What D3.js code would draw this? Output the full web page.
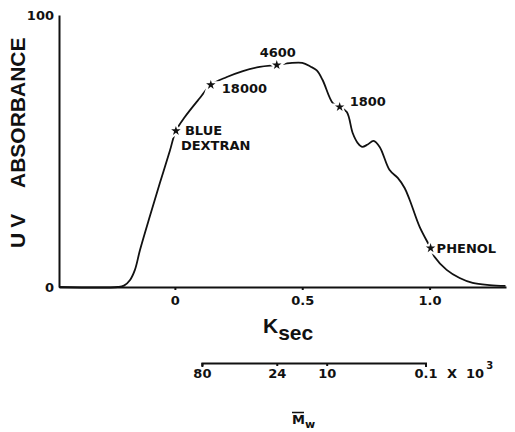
<!DOCTYPE html>
<html>
<head>
<meta charset="utf-8">
<script src="https://cdn.jsdelivr.net/npm/d3@7"></script>
<style>
  body { margin: 0; background: #fff; }
  svg { display: block; }
  .lbl { font-family: "DejaVu Sans", sans-serif; font-weight: bold; font-size: 13px; fill: #111; }
</style>
</head>
<body>
<svg id="chart"></svg>
<script>
// chromatogram trace (Ksec, UV absorbance)
const ksec = [-0.455, -0.224, -0.2, -0.176, -0.157, -0.137, -0.098, -0.059, -0.020, 0.004,
  0.039, 0.098, 0.141, 0.204, 0.267, 0.333, 0.400, 0.451, 0.500,
  0.533, 0.557, 0.580, 0.620, 0.647, 0.675, 0.698, 0.718, 0.735, 0.757, 0.780, 0.804,
  0.843, 0.875, 0.902, 0.922, 0.961, 1.004, 1.020, 1.067, 1.118, 1.169, 1.235, 1.298];
const absorb = [0, 0, 0.5, 2.6, 6.3, 13.6, 26.1, 38.2, 50.0, 57.4,
  62.5, 69.5, 74.3, 77.2, 79.4, 80.9, 81.6, 82.3, 82.4,
  81.0, 79.6, 76.1, 67.6, 66.2, 64.3, 56.6, 52.9, 51.5, 52.4, 53.7, 51.5,
  43.0, 40.1, 36.4, 32.0, 22.1, 14.3, 11.0, 6.3, 3.3, 1.5, 0.7, 0.4];

// calibration markers
const markK = [0.004, 0.141, 0.400, 0.647, 1.004];
const markV = [57.4, 74.3, 81.6, 66.2, 14.3];
const markLabels = [["BLUE", "DEXTRAN"], ["18000"], ["4600"], ["1800"], ["PHENOL"]];

// axis ticks
const xTicks = [0, 0.5, 1.0];
const yTicks = [0, 100];
// molecular weight scale (x 10^3) and where each tick sits on Ksec
const mwTicks = [80, 24, 10, 0.1];
const mwKsec = [0.106, 0.40, 0.596, 0.984];

const W = 515, H = 432;
const svg = d3.select("#chart").attr("width", W).attr("height", H);

const x = d3.scaleLinear().domain([-0.455, 1.3]).range([59, 506]);
const y = d3.scaleLinear().domain([0, 100]).range([287, 15]);

// x axis
const xAxis = svg.append("g")
  .attr("transform", `translate(0,${y(0)})`)
  .call(d3.axisBottom(x).tickValues(xTicks)
    .tickFormat(d => d === 0 ? "0" : d3.format(".1f")(d))
    .tickSize(3).tickSizeOuter(0).tickPadding(6));

// y axis
const yAxis = svg.append("g")
  .attr("transform", `translate(${x(-0.455)},0)`)
  .call(d3.axisLeft(y).tickValues(yTicks).tickSize(0).tickPadding(5));

[xAxis, yAxis].forEach(g => {
  g.select(".domain").attr("stroke", "#111").attr("stroke-width", 2);
  g.selectAll(".tick line").attr("stroke", "#111").attr("stroke-width", 2);
  g.selectAll(".tick text").attr("class", "lbl").attr("font-size", null).attr("font-family", null);
});
yAxis.selectAll(".tick text").attr("dy", "0.35em");

// trace
const line = d3.line()
  .x((d, i) => x(ksec[i]))
  .y(d => y(d))
  .curve(d3.curveCatmullRom.alpha(0.5));

svg.append("path")
  .datum(absorb)
  .attr("d", line)
  .attr("fill", "none")
  .attr("stroke", "#111")
  .attr("stroke-width", 1.8);

// star markers with a small white gap round each one
const star = d3.symbol().type(d3.symbolStar).size(28);
const marks = svg.append("g").selectAll("g")
  .data(markK)
  .join("g")
  .attr("transform", (d, i) => `translate(${x(d)},${y(markV[i])})`);
marks.append("path").attr("d", star).attr("fill", "#fff").attr("stroke", "#fff").attr("stroke-width", 4);
marks.append("path").attr("d", star).attr("fill", "#111");

// marker labels
const labelOffsets = [[[9, 4], [5, 19]], [[11, 8]], [[1, -8]], [[10, -1]], [[6, 5]]];
marks.each(function (d, i) {
  const g = d3.select(this);
  markLabels[i].forEach((t, j) => {
    g.append("text")
      .attr("class", "lbl")
      .attr("x", labelOffsets[i][j][0])
      .attr("y", labelOffsets[i][j][1])
      .attr("text-anchor", i === 2 ? "middle" : "start")
      .text(t);
  });
});

// axis titles
svg.append("text")
  .attr("transform", "translate(25,188) rotate(-90)")
  .attr("font-family", "Liberation Sans, Arial, sans-serif")
  .attr("font-weight", "bold")
  .attr("font-size", 21)
  .attr("fill", "#111")
  .text("ABSORBANCE");
svg.append("text")
  .attr("transform", "translate(25,248) rotate(-90)")
  .attr("font-family", "Liberation Sans, Arial, sans-serif")
  .attr("font-weight", "bold")
  .attr("font-size", 21)
  .attr("letter-spacing", 5)
  .attr("fill", "#111")
  .text("UV");

const kt = svg.append("text")
  .attr("x", 263).attr("y", 333)
  .attr("font-family", "Liberation Sans, Arial, sans-serif")
  .attr("font-weight", "bold")
  .attr("font-size", 21)
  .attr("fill", "#111");
kt.append("tspan").text("K");
kt.append("tspan").attr("dy", 7).text("sec");

// molecular weight axis
const mw = d3.scaleLinear().domain(mwTicks).range(mwKsec.map(x));
const mwAxis = svg.append("g")
  .attr("transform", "translate(0,363)")
  .call(d3.axisBottom(mw).tickValues(mwTicks)
    .tickFormat(d => String(d))
    .tickSize(3).tickSizeOuter(4).tickPadding(3));
mwAxis.select(".domain").attr("stroke", "#111").attr("stroke-width", 2);
mwAxis.selectAll(".tick line").attr("stroke", "#111").attr("stroke-width", 2);
mwAxis.selectAll(".tick text").attr("class", "lbl").attr("font-size", null).attr("font-family", null);

const xt = svg.append("text").attr("class", "lbl").attr("x", 447).attr("y", 378);
xt.append("tspan").text("X");
xt.append("tspan").attr("dx", 9).text("10");
xt.append("tspan").attr("dx", 2).attr("dy", -9).attr("font-size", 10).text("3");

const mt = svg.append("text").attr("class", "lbl").attr("x", 292).attr("y", 424);
mt.append("tspan").text("M");
mt.append("tspan").attr("dy", 4).attr("font-size", 11).text("w");
svg.append("line")
  .attr("x1", 292).attr("x2", 304).attr("y1", 412.5).attr("y2", 412.5)
  .attr("stroke", "#111").attr("stroke-width", 1.5);
</script>
</body>
</html>
